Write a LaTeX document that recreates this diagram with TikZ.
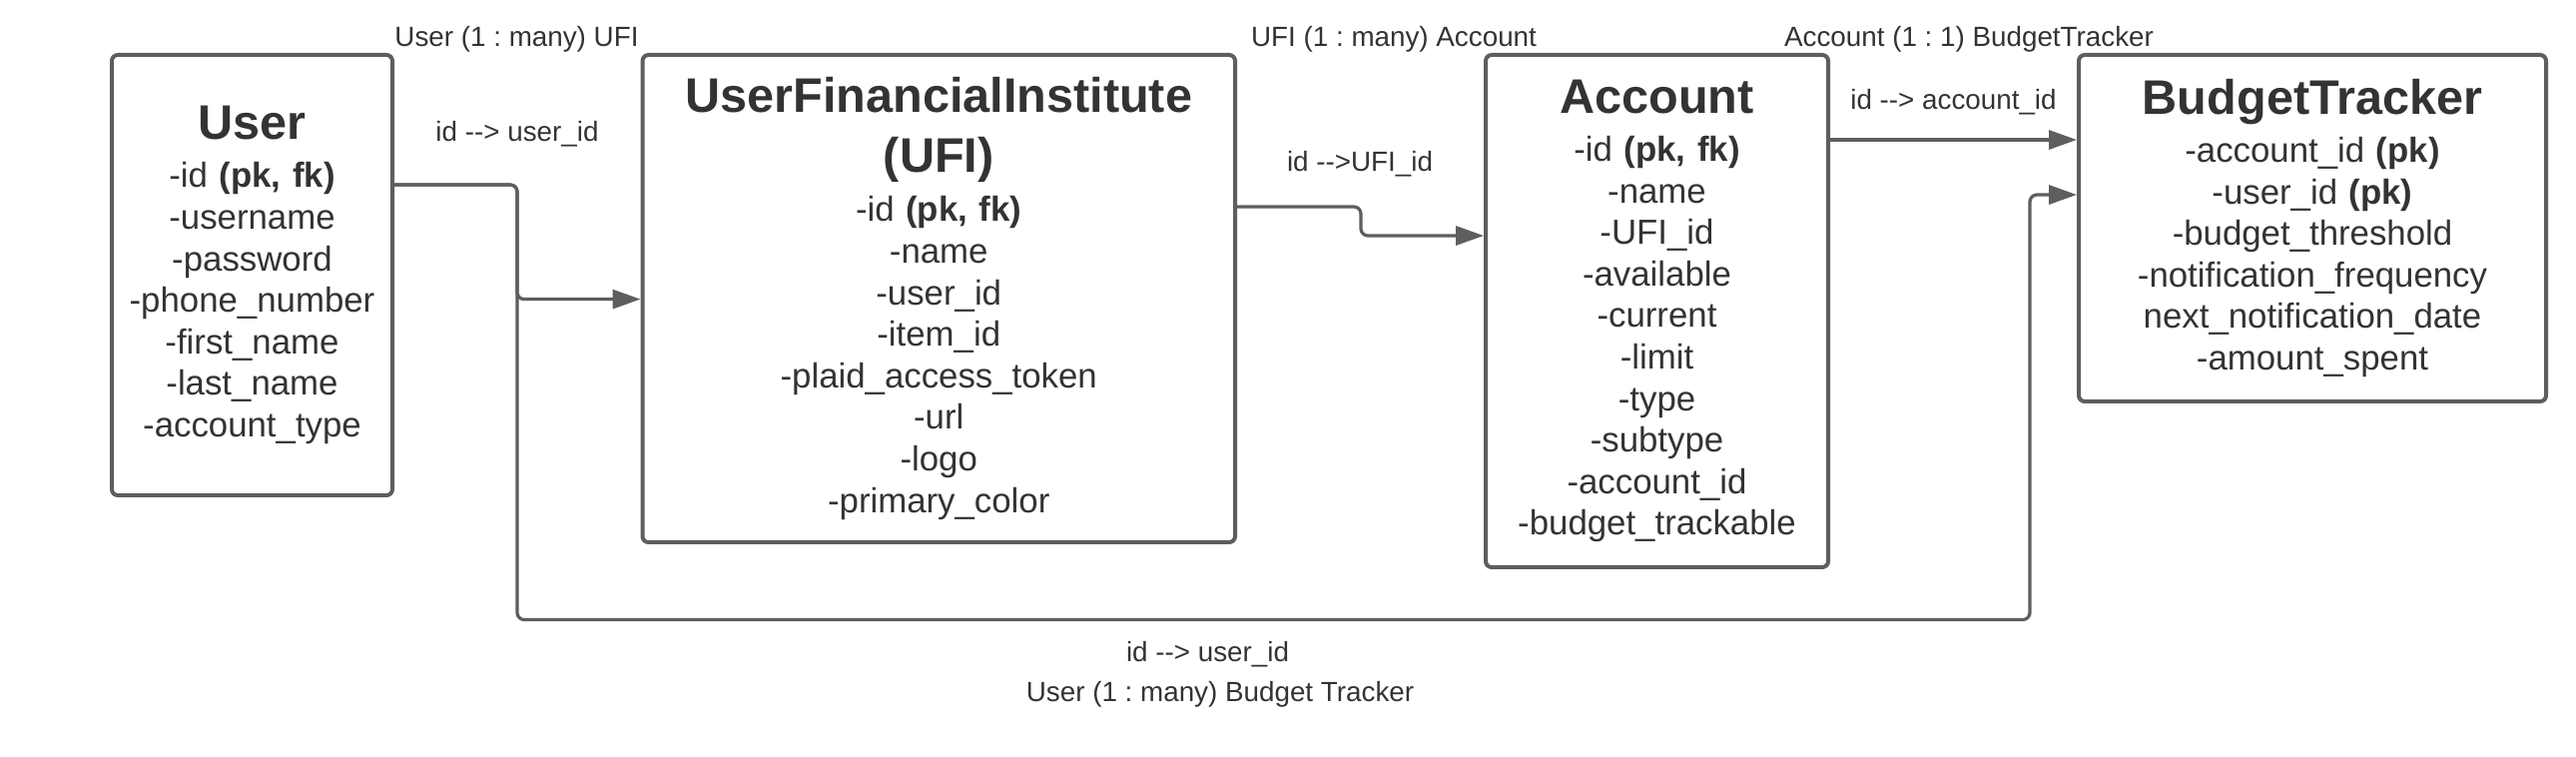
\documentclass[tikz,border=0pt]{standalone}
\usepackage{fontspec}
\setmainfont{Liberation Sans}[Ligatures=TeXOff]
\usetikzlibrary{arrows.meta}
\definecolor{linegray}{HTML}{5E5E5E}
\definecolor{textgray}{HTML}{333333}
\newcommand{\etitle}[1]{{\fontsize{24.3}{30}\selectfont\bfseries #1}}
\newcommand{\ekey}[1]{\textbf{#1}}
\frenchspacing

\tikzset{
	entity/.style={draw=linegray, line width=2pt, rounded corners=3pt, outer sep=0pt, inner sep=0pt, align=center, text=textgray, font=\fontsize{17.4}{20.8}\selectfont, anchor=north west},
	link/.style={draw=linegray, line width=1.6pt, rounded corners=3.5pt, shorten >=1pt, -{Triangle[length=14pt,width=9.5pt]}},
	rel/.style={text=textgray, font=\fontsize{13.9}{16}\selectfont, anchor=base, inner sep=0pt}
}

\begin{document}
\begin{tikzpicture}[x=0.5pt,y=-0.5pt]
	\useasboundingbox (0,0) rectangle (2580,758);
	\node[entity, minimum width=140.5pt, minimum height=220.5pt, text width=134pt] (User) at (112,55) {\etitle{User}\\[3.2pt] -id \ekey{(pk, fk)}\\ -username\\ -password\\ -phone\_number\\ -first\_name\\ -last\_name\\ -account\_type};
	\node[entity, minimum width=296.75pt, minimum height=244pt, text width=290pt] (UFI) at (643.5,55) {\etitle{UserFinancialInstitute}\\[9.2pt] \etitle{(UFI)}\\[3.8pt] -id \ekey{(pk, fk)}\\ -name\\ -user\_id\\ -item\_id\\ -plaid\_access\_token\\ -url\\ -logo\\ -primary\_color};
	\node[entity, minimum width=171.5pt, minimum height=256.5pt, text width=165pt] (Account) at (1488,55) {\etitle{Account}\\[3.2pt] -id \ekey{(pk, fk)}\\ -name\\ -UFI\_id\\ -available\\ -current\\ -limit\\ -type\\ -subtype\\ -account\_id\\ -budget\_trackable};
	\node[entity, minimum width=234pt, minimum height=173.5pt, text width=228pt] (BT) at (2082,55) {\etitle{BudgetTracker}\\[3.2pt] -account\_id \ekey{(pk)}\\ -user\_id \ekey{(pk)}\\ -budget\_threshold\\ -notification\_frequency\\ next\_notification\_date\\ -amount\_spent};

	\coordinate (lowbus) at (2033,620.5);
	\draw[link] ([yshift=-65pt]User.north east) -- ++(62.5pt,0) |- ([yshift=-122.3pt]UFI.north west);
	\draw[link] ([yshift=-65pt]User.north east) -- ++(62.5pt,0) |- (lowbus) |- ([yshift=-70pt]BT.north west);
	\draw[link] ([yshift=-76pt]UFI.north east) -- ++(63pt,0) |- ([yshift=-90.5pt]Account.north west);
	\draw[link] ([yshift=-42.5pt]Account.north east) -- ([yshift=-42.5pt]BT.north west);

	\node[rel] (relUserUFI) at (517.5,47) {User (1 : many) UFI};
	\node[rel] (keyUserUFI) at (518,142) {id --> user\_id};
	\node[rel] (relUFIAccount) at (1396,47) {UFI (1 : many) Account};
	\node[rel] (keyUFIAccount) at (1362,172) {id -->UFI\_id};
	\node[rel] (relAccountBT) at (1972,47) {Account (1 : 1) BudgetTracker};
	\node[rel] (keyAccountBT) at (1956.5,110) {id --> account\_id};
	\node[rel] (keyUserBT) at (1209.5,662) {id --> user\_id};
	\node[rel] (relUserBT) at (1222,702) {User (1 : many) Budget Tracker};
\end{tikzpicture}
\end{document}
